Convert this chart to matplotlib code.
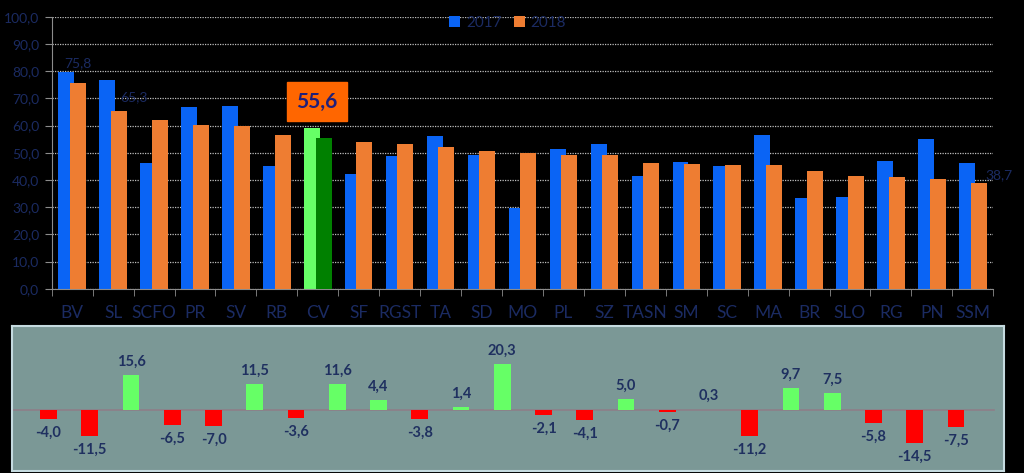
import matplotlib
matplotlib.use("Agg")
import matplotlib.pyplot as plt
import numpy as np

categories = ["BV", "SL", "SCFO", "PR", "SV", "RB", "CV", "SF", "RGST", "TA", "SD", "MO",
              "PL", "SZ", "TASN", "SM", "SC", "MA", "BR", "SLO", "RG", "PN", "SSM"]
values_2017 = [79.8, 76.8, 46.3, 66.7, 67.0, 45.1, 59.2, 42.3, 48.7, 56.0, 49.2, 29.6,
               51.4, 53.1, 41.3, 46.6, 45.1, 56.6, 33.4, 33.8, 46.9, 54.9, 46.2]
values_2018 = [75.8, 65.3, 61.9, 60.2, 60.0, 56.6, 55.6, 53.9, 53.1, 52.2, 50.6, 49.9,
               49.3, 49.0, 46.3, 45.9, 45.4, 45.4, 43.1, 41.3, 41.1, 40.4, 38.7]
differences = [-4.0, -11.5, 15.6, -6.5, -7.0, 11.5, -3.6, 11.6, 4.4, -3.8, 1.4, 20.3,
               -2.1, -4.1, 5.0, -0.7, 0.3, -11.2, 9.7, 7.5, -5.8, -14.5, -7.5]
series_labels = ["2017", "2018"]
highlight = "CV"

NAVY = "#1b2b62"
BLUE = "#0a64f5"
ORANGE = "#ee7d32"

plt.rcParams['font.family'] = ['Lato', 'DejaVu Sans']

def fmt(v):
    return f"{v:.1f}".replace(".", ",")

fig = plt.figure(figsize=(10.24, 4.73), dpi=100, facecolor="black")

# ---------------- top chart ----------------
ax = fig.add_axes([0.0505, 0.3896, 0.9195, 0.575])
ax.set_facecolor("black")
x = np.arange(len(categories))
w = 0.39
off = 0.14
c17 = [("#66ff66" if c == highlight else BLUE) for c in categories]
c18 = [("#008000" if c == highlight else ORANGE) for c in categories]
ax.bar(x - off, values_2017, width=w, color=c17, zorder=2, label=series_labels[0])
ax.bar(x + off, values_2018, width=w, color=c18, zorder=3, label=series_labels[1])

ax.set_xlim(-0.5, len(categories) - 0.5)
ax.set_ylim(0, 100)
ax.set_yticks(np.arange(0, 101, 10))
ax.set_yticklabels([fmt(v) for v in np.arange(0, 101, 10)], color=NAVY, fontsize=10)
ax.yaxis.grid(True, color="#bfbfbf", linestyle=(0, (1, 1)), linewidth=0.9, zorder=0)
ax.set_axisbelow(True)
ax.set_xticks(x)
ax.set_xticklabels(categories, color=NAVY, fontsize=12.5)
ax.set_xticks(np.arange(-0.5, len(categories), 1), minor=True)
ax.tick_params(axis="x", which="major", length=0, pad=12)
ax.tick_params(axis="x", which="minor", length=5, color="#8c8c8c", direction="out")
ax.tick_params(axis="y", length=5, color="#8c8c8c", pad=4)
for s in ["top", "right"]:
    ax.spines[s].set_visible(False)
for s in ["left", "bottom"]:
    ax.spines[s].set_color("#8c8c8c")

# value labels
i = categories.index("BV")
ax.text(i + off, values_2018[i] + 5, fmt(values_2018[i]), color=NAVY, fontsize=10,
        ha="center", va="bottom")
i = categories.index("SL")
ax.text(i + 0.5, values_2018[i] + 5.3, fmt(values_2018[i]), color=NAVY, fontsize=10,
        ha="center", va="center")
i = categories.index("SSM")
ax.text(i + 0.65, values_2018[i] + 3.1, fmt(values_2018[i]), color=NAVY, fontsize=10,
        ha="center", va="center", clip_on=False)

i = categories.index(highlight)
ax.text(i - 0.02, 68.8, fmt(values_2018[i]), color="#1f1f7a", fontsize=15, fontweight="bold",
        ha="center", va="center",
        bbox=dict(boxstyle="square,pad=0.45", facecolor="#ff6600", edgecolor="#ff6600"))

leg = ax.legend(loc="center", bbox_to_anchor=(0.484, 0.977), ncol=2, frameon=False,
                fontsize=11, handlelength=0.75, handleheight=0.75, columnspacing=0.8,
                handletextpad=0.35)
for t in leg.get_texts():
    t.set_color(NAVY)

# ---------------- bottom panel ----------------
bx = fig.add_axes([0.0117, 0.005, 0.9688, 0.3058])
bx.set_facecolor("#7b9896")
xb = np.arange(len(differences))
cols = ["#66ff66" if d >= 0 else "#ff0000" for d in differences]
bx.bar(xb, differences, width=0.41, color=cols, zorder=3)
bx.axhline(0, xmin=0.0, xmax=0.99, color="#8e7e88", linewidth=1.2, zorder=2)
bx.set_xlim(-0.886, len(differences) - 1 + 1.165)
bx.set_ylim(-26.7, 37.3)
bx.set_xticks([])
bx.set_yticks([])
for s in bx.spines.values():
    s.set_color("#c5dbe0")
    s.set_linewidth(1.5)
for xi, d in zip(xb, differences):
    if d >= 0:
        bx.text(xi, d + 2.8, fmt(d), ha="center", va="bottom", color="#1f3060",
                fontsize=10.5, fontweight="bold")
    else:
        bx.text(xi, d - 3.0, fmt(d), ha="center", va="top", color="#1f3060",
                fontsize=10.5, fontweight="bold")

fig.savefig("out.png", dpi=100, facecolor="black")
